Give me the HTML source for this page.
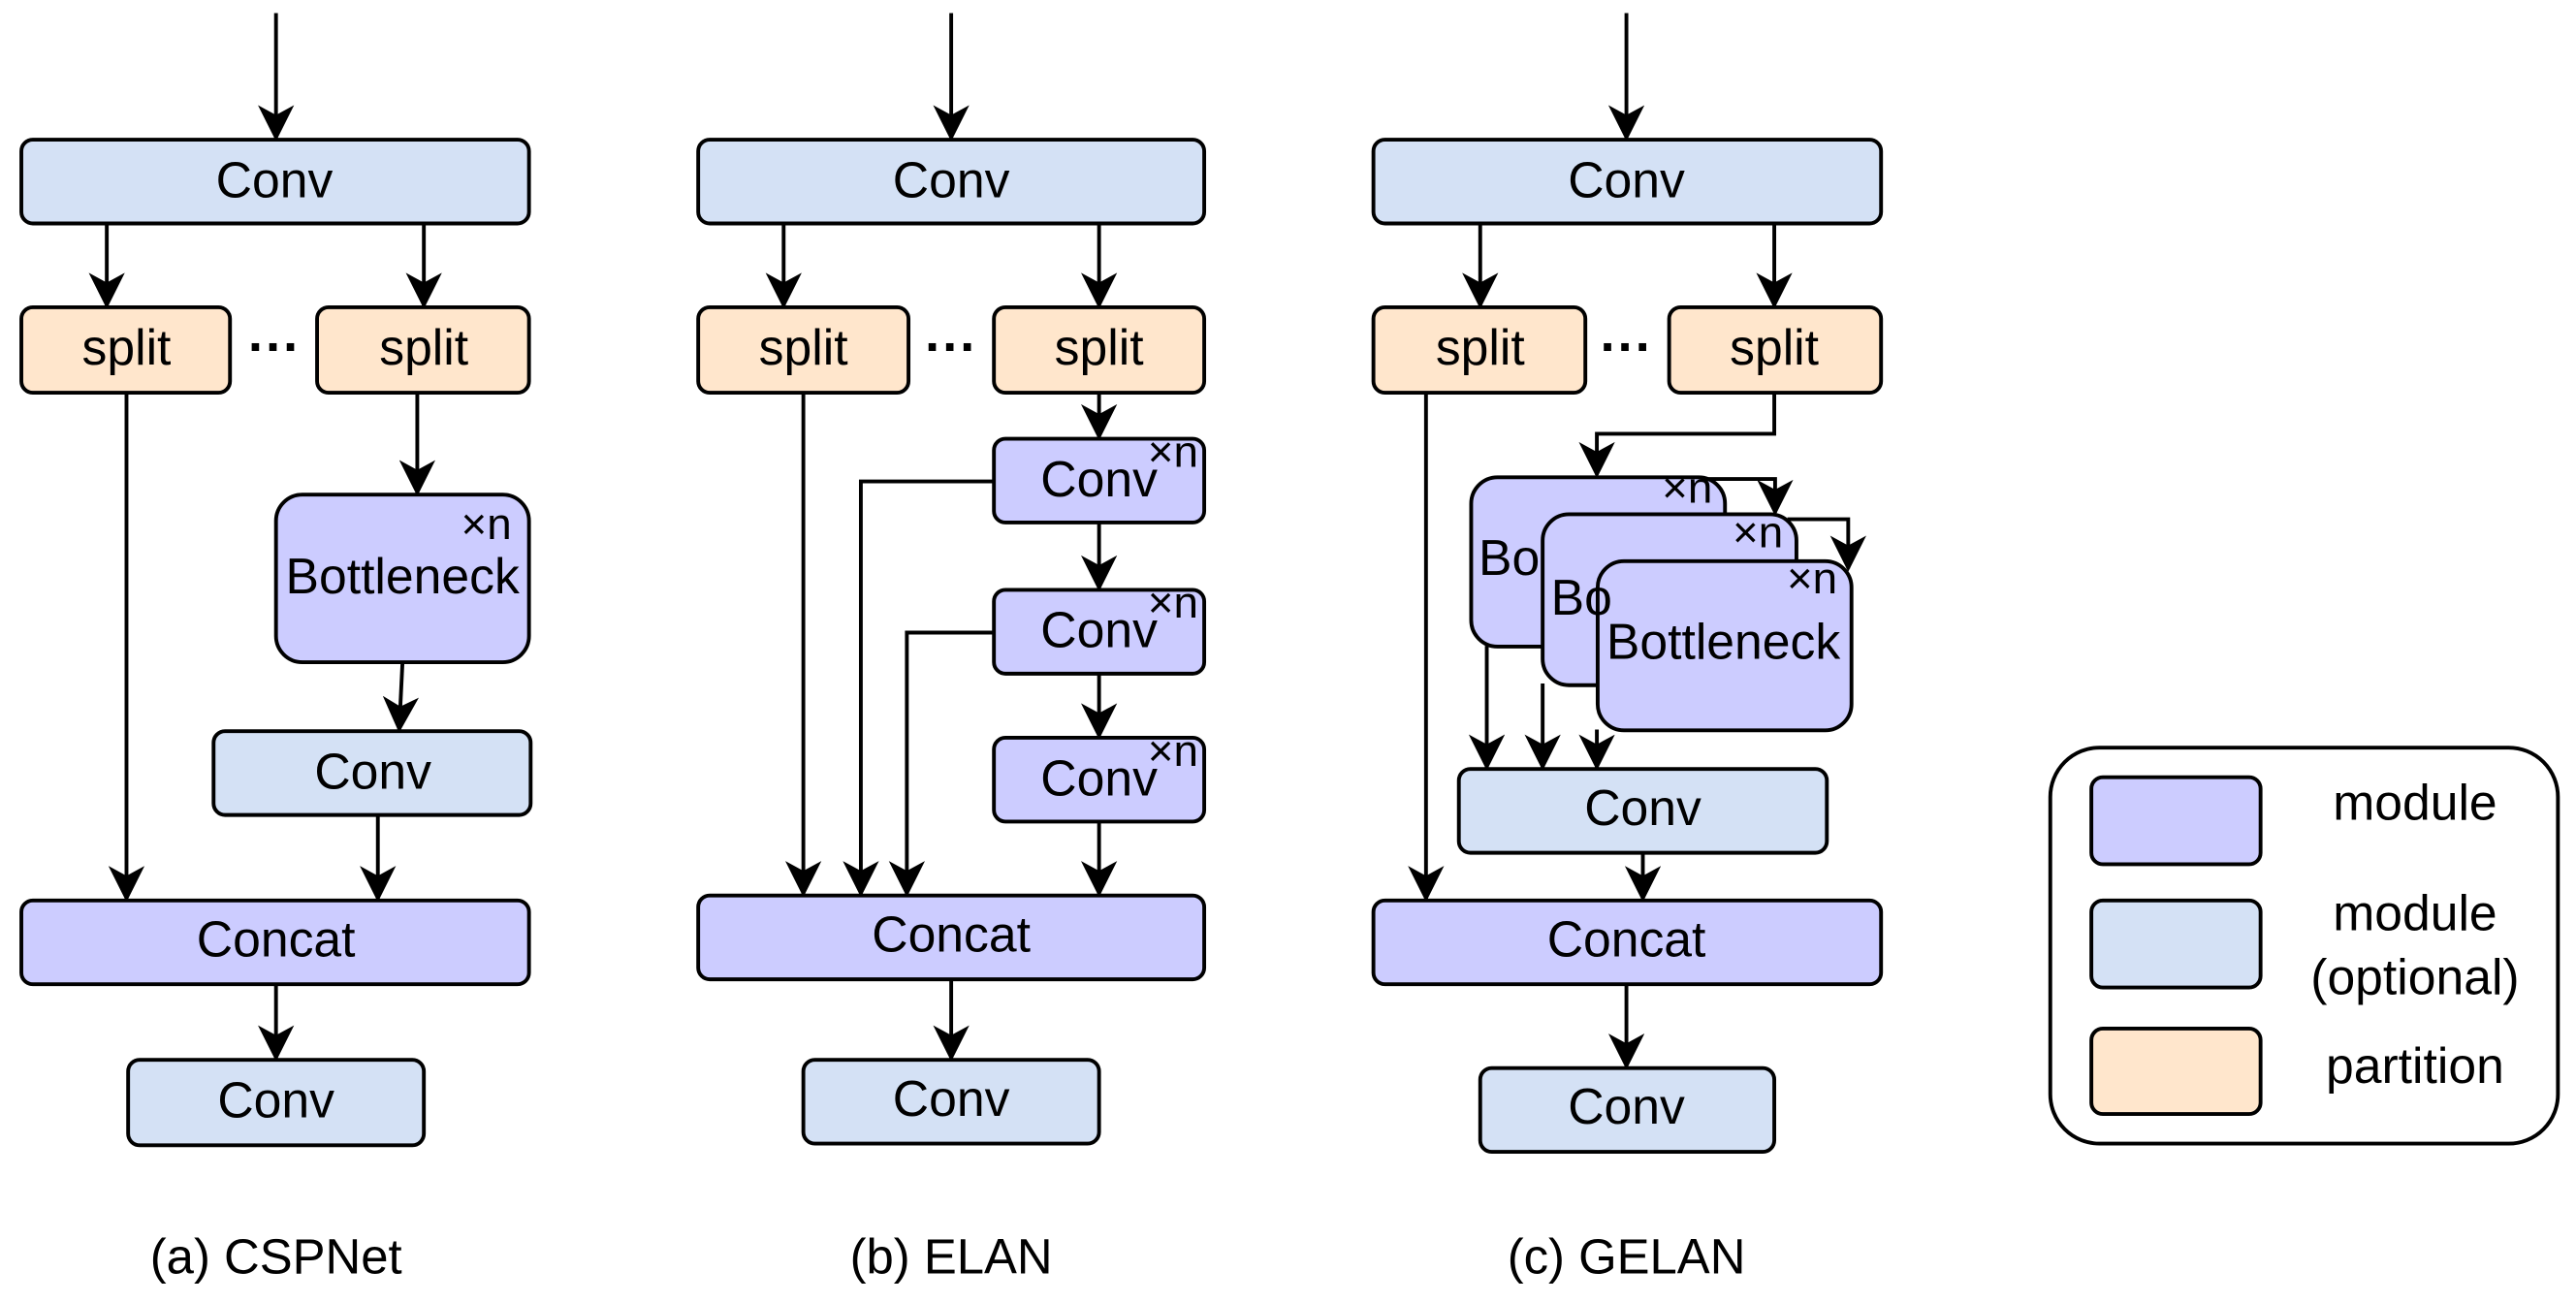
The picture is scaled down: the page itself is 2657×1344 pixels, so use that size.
<!DOCTYPE html>
<html><head><meta charset="utf-8"><style>html,body{margin:0;padding:0;background:#fff}svg{display:block}</style></head>
<body>
<svg width="2657" height="1344" viewBox="0 0 1568 793" preserveAspectRatio="none" xmlns="http://www.w3.org/2000/svg" font-family="Liberation Sans, sans-serif">
<defs>
<marker id="b" markerWidth="22" markerHeight="22" refX="20" refY="11" orient="auto" markerUnits="userSpaceOnUse" viewBox="0 0 22 22"><path d="M0,0 L22,11 L0,22 L6,11 z" fill="#000"/></marker></defs>
<g stroke="#000" stroke-width="2.3" fill="none" marker-end="url(#b)">
<path d="M168,8V84"/><path d="M65,136V186"/><path d="M258,136V186"/><path d="M77,239V547"/><path d="M254,239V300"/><path d="M245,403L243,444"/><path d="M230,496V547"/><path d="M168,599V644"/>
<path d="M579,8V84"/><path d="M477,136V186"/><path d="M669,136V186"/><path d="M489,239V544"/><path d="M669,239V266"/><path d="M669,318V358"/><path d="M669,410V448"/><path d="M669,500V544"/>
<path d="M605,293H524V544"/><path d="M605,385H552V544"/><path d="M579,596V644"/>
<path d="M990,8V84"/><path d="M901,136V186"/><path d="M1080,136V186"/><path d="M868,239V547"/><path d="M1080,239V264H972V289"/>
<path d="M1040,291.5H1080.5V312"/><path d="M1088,316H1125V346"/>
<path d="M905,393V467"/><path d="M939,416V467"/><path d="M972,444V467"/><path d="M1000,519V547"/><path d="M990,599V649"/>
</g>
<g stroke="#000" stroke-width="2.3">
<rect x="13" y="85" width="309" height="51" rx="7" fill="#d4e1f5"/>
<rect x="13" y="187" width="127" height="52" rx="7" fill="#ffe6cc"/>
<rect x="193" y="187" width="129" height="52" rx="7" fill="#ffe6cc"/>
<rect x="168" y="301" width="154" height="102" rx="16" fill="#ccccff"/>
<rect x="130" y="445" width="193" height="51" rx="7" fill="#d4e1f5"/>
<rect x="13" y="548" width="309" height="51" rx="7" fill="#ccccff"/>
<rect x="78" y="645" width="180" height="52" rx="7" fill="#d4e1f5"/>

<rect x="425" y="85" width="308" height="51" rx="7" fill="#d4e1f5"/>
<rect x="425" y="187" width="128" height="52" rx="7" fill="#ffe6cc"/>
<rect x="605" y="187" width="128" height="52" rx="7" fill="#ffe6cc"/>
<rect x="605" y="267" width="128" height="51" rx="7" fill="#ccccff"/>
<rect x="605" y="359" width="128" height="51" rx="7" fill="#ccccff"/>
<rect x="605" y="449" width="128" height="51" rx="7" fill="#ccccff"/>
<rect x="425" y="545" width="308" height="51" rx="7" fill="#ccccff"/>
<rect x="489" y="645" width="180" height="51" rx="7" fill="#d4e1f5"/>

<rect x="836" y="85" width="309" height="51" rx="7" fill="#d4e1f5"/>
<rect x="836" y="187" width="129" height="52" rx="7" fill="#ffe6cc"/>
<rect x="1016" y="187" width="129" height="52" rx="7" fill="#ffe6cc"/>
<rect x="895.5" y="290.5" width="154.5" height="103" rx="16" fill="#ccccff"/>
<rect x="939" y="313" width="154.5" height="104" rx="16" fill="#ccccff"/>
<rect x="972.5" y="341.5" width="154.5" height="103" rx="16" fill="#ccccff"/>
<rect x="888" y="468" width="224" height="51" rx="7" fill="#d4e1f5"/>
<rect x="836" y="548" width="309" height="51" rx="7" fill="#ccccff"/>
<rect x="901" y="650" width="179" height="51" rx="7" fill="#d4e1f5"/>

<rect x="1248" y="455" width="309" height="241" rx="30" fill="#fff"/>
<rect x="1273" y="473" width="103" height="53" rx="7" fill="#ccccff"/>
<rect x="1273" y="548" width="103" height="53" rx="7" fill="#d4e1f5"/>
<rect x="1273" y="626" width="103" height="52" rx="7" fill="#ffe6cc"/>
</g>
<g font-size="30.5" fill="#000" text-anchor="middle">
<text x="167" y="120">Conv</text><text x="77" y="222">split</text><text x="258" y="222">split</text>
<text x="245" y="361">Bottleneck</text><text x="227" y="480">Conv</text><text x="168" y="582">Concat</text><text x="168" y="680">Conv</text>
<text x="579" y="120">Conv</text><text x="489" y="222">split</text><text x="669" y="222">split</text>
<text x="669" y="302">Conv</text><text x="669" y="394">Conv</text><text x="669" y="484">Conv</text>
<text x="579" y="579">Concat</text><text x="579" y="679">Conv</text>
<text x="990" y="120">Conv</text><text x="901" y="222">split</text><text x="1080" y="222">split</text>
<text x="1000" y="502">Conv</text><text x="990" y="582">Concat</text><text x="990" y="684">Conv</text>
<text x="1049" y="401">Bottleneck</text>
<text x="1470" y="499">module</text><text x="1470" y="566">module</text><text x="1470" y="605">(optional)</text><text x="1470" y="659">partition</text>
</g>
<g font-size="30.5" fill="#000"><text x="900" y="350">Bo</text><text x="944" y="374">Bo</text></g>
<g font-size="27" fill="#000" text-anchor="middle">
<text x="296" y="328">×n</text><text x="714" y="284">×n</text><text x="714" y="376">×n</text><text x="714" y="466">×n</text>
<text x="1027" y="306">×n</text><text x="1070" y="333">×n</text><text x="1103" y="361">×n</text>
</g>
<g font-size="32" font-weight="bold" fill="#000" text-anchor="middle">
<text x="167" y="222">···</text><text x="579" y="222">···</text><text x="990" y="222">···</text>
</g>
<g font-size="30" fill="#000" text-anchor="middle">
<text x="168" y="775">(a) CSPNet</text><text x="579" y="775">(b) ELAN</text><text x="990" y="775">(c) GELAN</text>
</g>
</svg>
</body></html>
